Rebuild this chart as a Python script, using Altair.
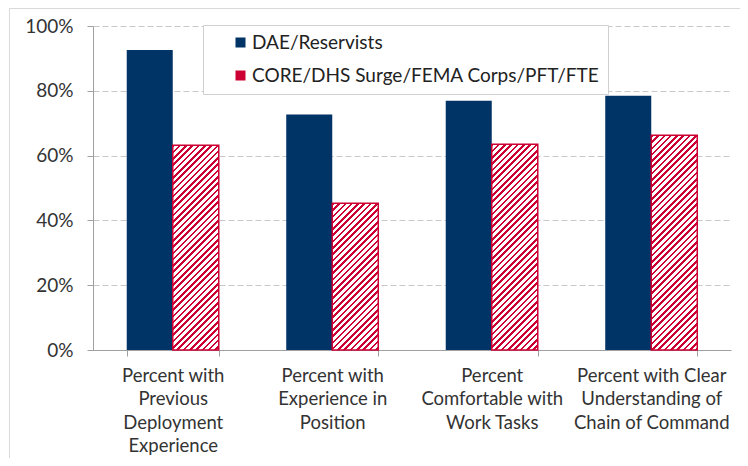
import altair as alt

# ---- data ----
categories = [
    "Percent with|Previous|Deployment|Experience",
    "Percent with|Experience in|Position",
    "Percent|Comfortable with|Work Tasks",
    "Percent with Clear|Understanding of|Chain of Command",
]
series = ["DAE/Reservists", "CORE/DHS Surge/FEMA Corps/PFT/FTE"]
dae_values = [0.926, 0.727, 0.769, 0.785]
core_values = [0.632, 0.453, 0.635, 0.663]
y_ticks = [0, 0.2, 0.4, 0.6, 0.8, 1.0]

NAVY = "#003366"
RED = "#CC0033"
FONT = "Lato"

W, H = 638, 324
P_INNER = 0.423
BAR_W = W / len(categories) * (1 - P_INNER) / 2


def hatch(v):
    """Diagonal '/' hatch as a linear gradient with hard stops."""
    w, h = BAR_W, v * H
    denom = w * w + h * h
    period, red = 6.3, 2.6
    stops = []
    s = 0.0
    smax = w + h
    while s < smax:
        t0 = s * w / denom
        t1 = min((s + red) * w / denom, 1)
        t2 = min((s + period) * w / denom, 1)
        stops += [
            {"offset": t0, "color": RED},
            {"offset": t1, "color": RED},
            {"offset": t1, "color": "#ffffff"},
            {"offset": t2, "color": "#ffffff"},
        ]
        s += period
    return {"gradient": "linear", "x1": 0, "y1": 0, "x2": 1, "y2": h / w, "stops": stops}


rows = []
for c, a, b in zip(categories, dae_values, core_values):
    rows.append({"cat": c, "series": series[0], "value": a, "grad": None})
    rows.append({"cat": c, "series": series[1], "value": b, "grad": hatch(b)})

data = alt.Data(values=rows)

x_enc = alt.X(
    "cat:N",
    sort=categories,
    scale=alt.Scale(paddingInner=P_INNER, paddingOuter=P_INNER / 2),
    axis=alt.Axis(
        title=None,
        labelExpr="split(datum.label, '|')",
        labelAngle=0,
        labelFont=FONT,
        labelFontSize=18.5,
        labelLineHeight=23.5,
        labelColor="#333333",
        labelPadding=10,
        labelBaseline="top",
        labelLimit=300,
        tickBand="extent",
        tickSize=6,
        tickColor="#a0a0a0",
        domainColor="#a0a0a0",
        grid=False,
    ),
)
xo_enc = alt.XOffset("series:N", sort=series, scale=alt.Scale(domain=series, paddingInner=0, paddingOuter=0))
y_enc = alt.Y(
    "value:Q",
    stack=None,
    scale=alt.Scale(domain=[0, 1], nice=False),
    axis=alt.Axis(
        title=None,
        values=y_ticks,
        format=".0%",
        labelFont=FONT,
        labelFontSize=19,
        labelColor="#333333",
        labelPadding=14,
        tickSize=6,
        tickColor="#a0a0a0",
        domainColor="#a0a0a0",
        grid=True,
        gridColor="#c8c8c8",
        gridDash=[6, 3],
    ),
)

bars = alt.Chart(data).mark_bar().encode(
    x=x_enc,
    xOffset=xo_enc,
    y=y_enc,
    color=alt.Color(
        "series:N",
        sort=series,
        scale=alt.Scale(domain=series, range=[NAVY, RED]),
        legend=alt.Legend(
            title=None,
            orient="none",
            legendX=110,
            legendY=-1,
            direction="vertical",
            symbolType="square",
            symbolSize=100,
            symbolStrokeWidth=0,
            labelFont=FONT,
            labelFontSize=19,
            labelColor="#222222",
            labelOffset=2,
            labelLimit=500,
            padding=8,
            symbolOffset=20,
            rowPadding=13,
            strokeColor="#d0d0d0",
            fillColor="#ffffff",
        ),
    ),
)

hatched = (
    alt.Chart(data)
    .transform_filter(alt.datum.series == series[1])
    .mark_bar(stroke=RED, strokeWidth=1.5)
    .encode(
        x=x_enc,
        xOffset=xo_enc,
        y=y_enc,
        fill=alt.Fill("grad:N", scale=None, legend=None),
    )
)

frame = (
    alt.Chart(alt.Data(values=[{"k": 1}]))
    .mark_rule(color="#d9d9d9", strokeWidth=1)
    .encode(x=alt.value(-83.5), x2=alt.value(W + 20), y=alt.value(-17.5))
)
frame2 = (
    alt.Chart(alt.Data(values=[{"k": 1}]))
    .mark_rule(color="#d9d9d9", strokeWidth=1)
    .encode(x=alt.value(-83.5), y=alt.value(-17.5), y2=alt.value(H + 120))
)

chart = (
    alt.layer(frame, frame2, bars, hatched)
    .properties(
        width=W,
        height=H,
        autosize=alt.AutoSizeParams(type="none"),
        padding={"left": 85, "top": 18, "right": 9, "bottom": 108},
        background="white",
    )
    .configure_view(stroke=None)
)

chart.save("out.html", embed_options={"renderer": "svg", "actions": False})
